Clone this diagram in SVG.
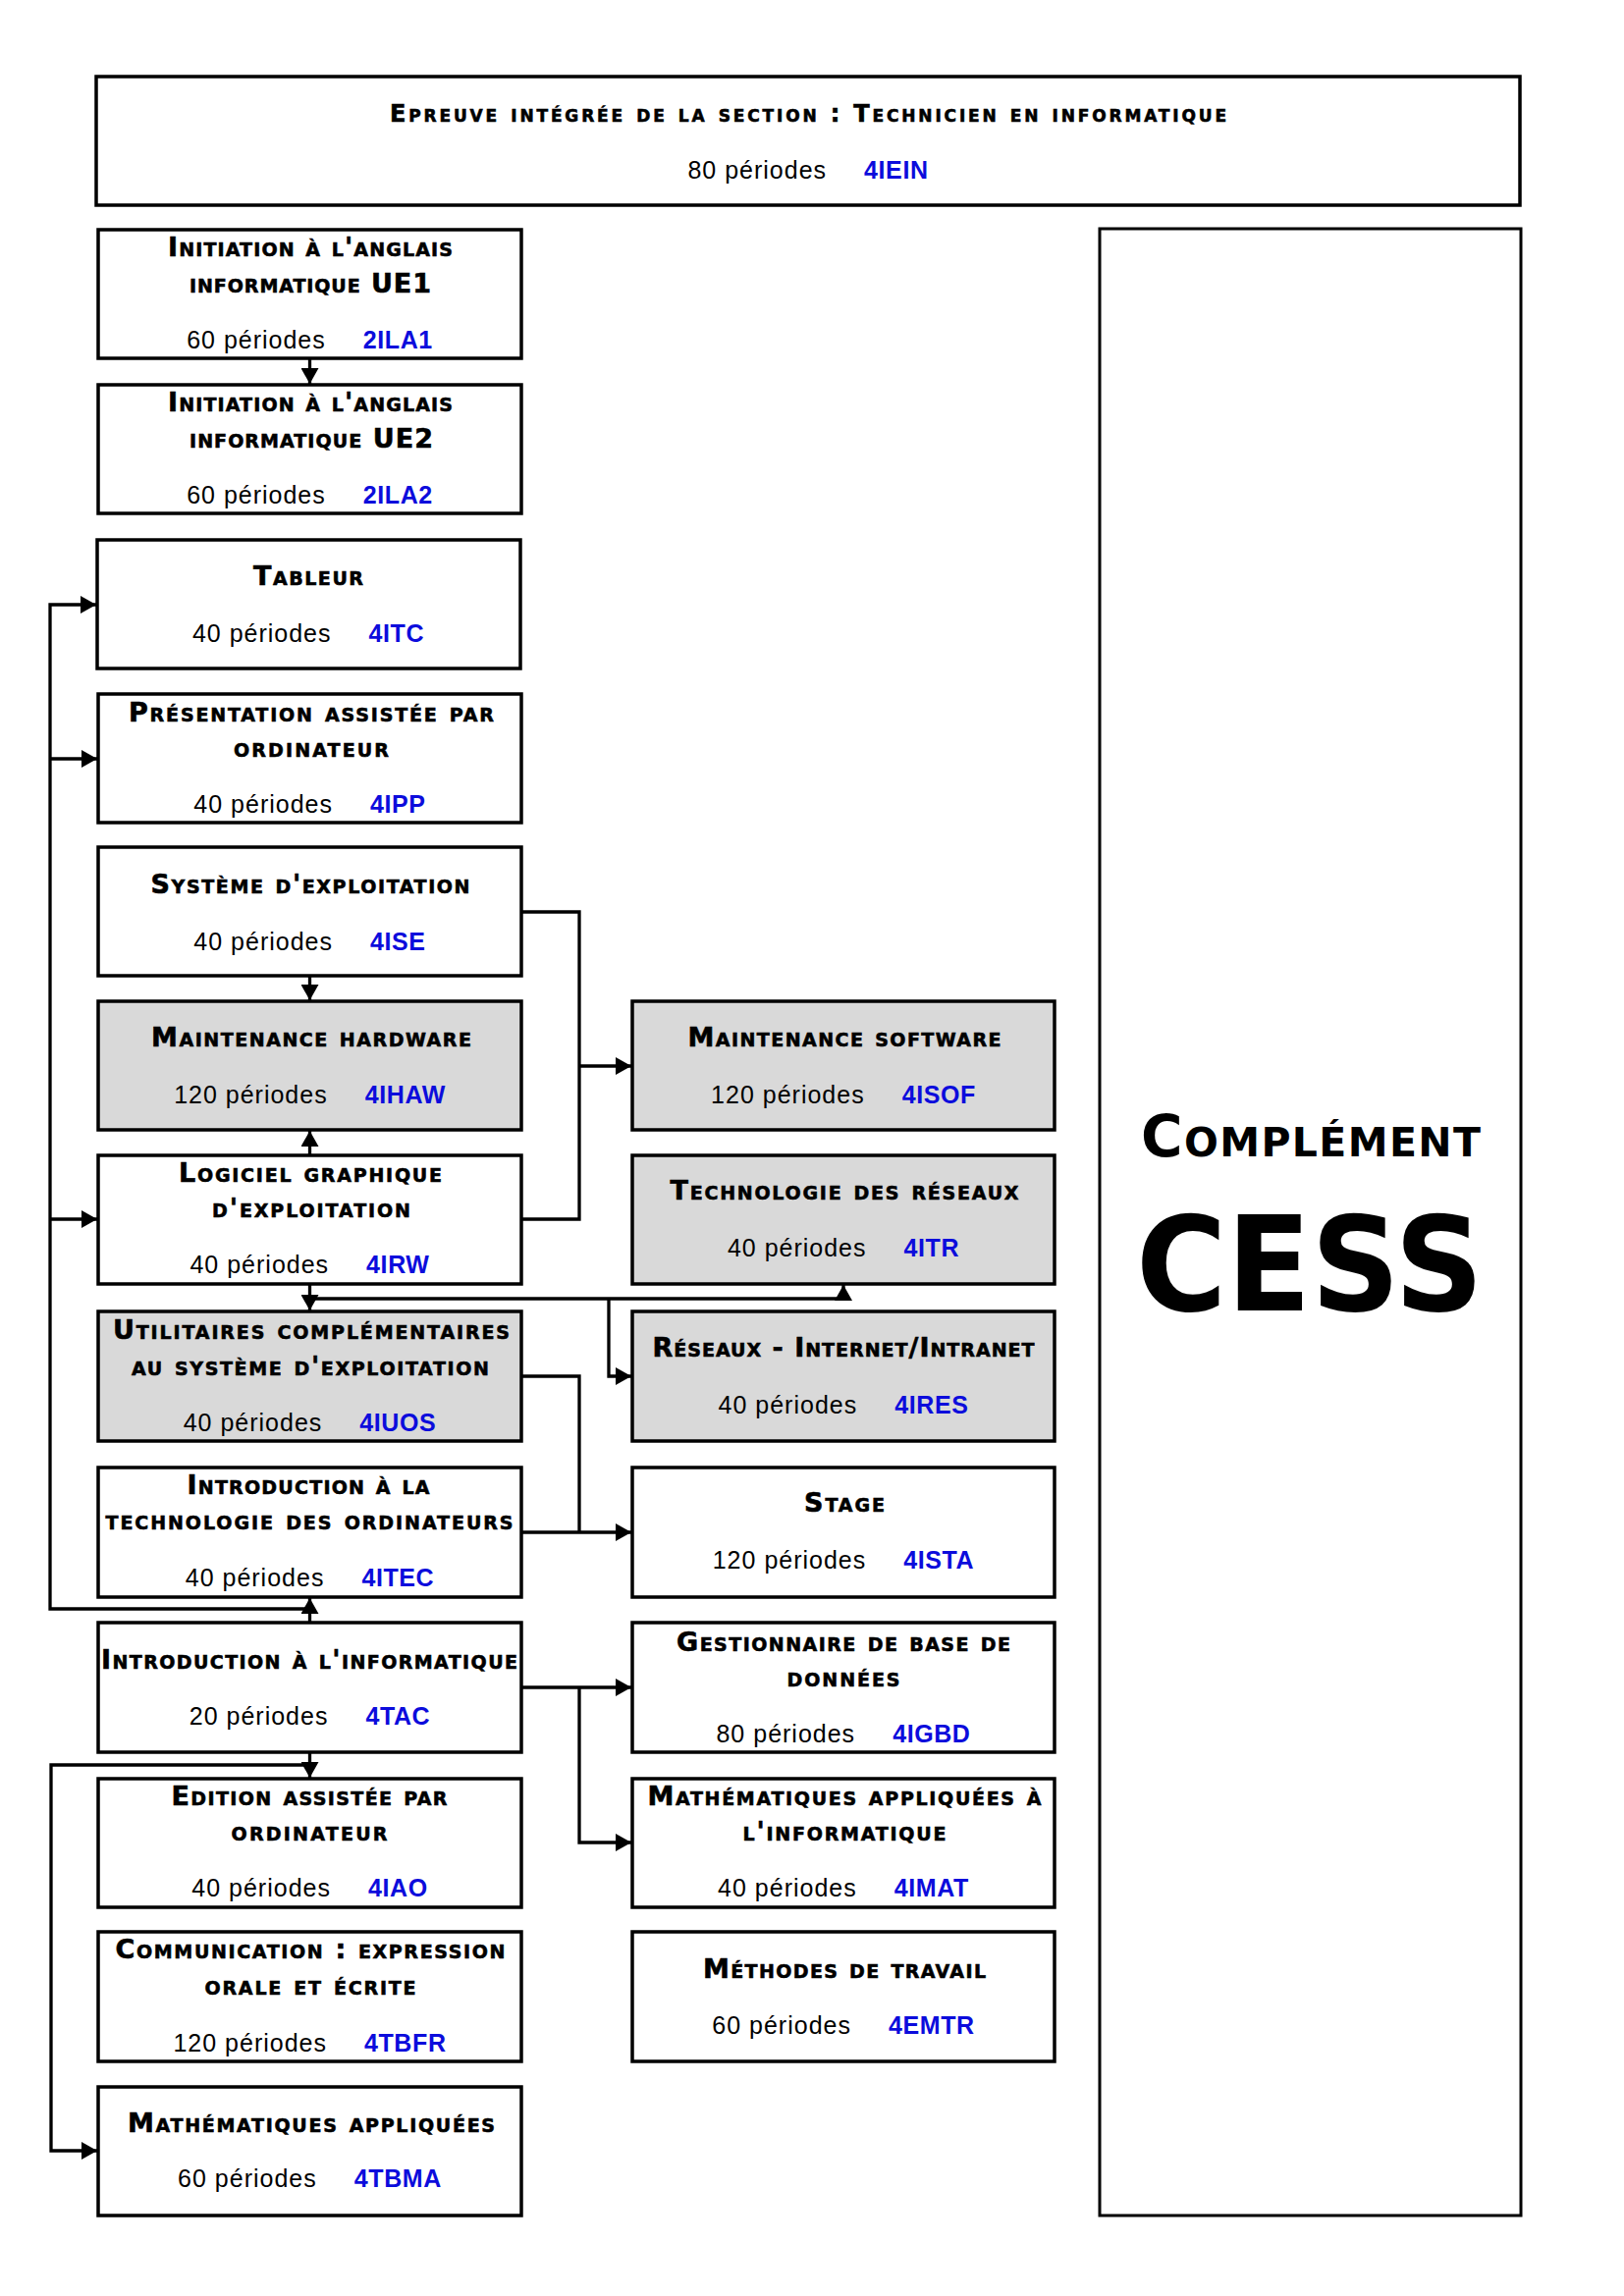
<svg xmlns="http://www.w3.org/2000/svg" width="1654" height="2339" viewBox="0 0 1654 2339">
  <style>
    .box { fill: #ffffff; stroke: #000000; stroke-width: 3.5; }
    .grey { fill: #d9d9d9; }
    .frame { fill: #ffffff; stroke: #000000; stroke-width: 3; }
    .t { font-family: "DejaVu Sans", "Liberation Sans", sans-serif; font-weight: bold; font-size: 27px; font-variant: small-caps; text-anchor: middle; fill: #000000; stroke: #000000; stroke-width: 0.6px; }
    .tt { font-size: 24px; }
    .p { font-family: "Liberation Sans", Arial, sans-serif; font-size: 25px; letter-spacing: 1px; text-anchor: middle; fill: #000000; }
    .c { font-weight: bold; fill: #0c0cdc; letter-spacing: 0.6px; }
    .big { font-family: "DejaVu Sans", "Liberation Sans", sans-serif; font-weight: bold; text-anchor: middle; fill: #000000; }
    .wire { fill: none; stroke: #000000; stroke-width: 3.3; }
    .arr { marker-end: url(#ah); }
  </style>
  <defs>
    <marker id="ah" markerUnits="userSpaceOnUse" viewBox="0 0 16 18" markerWidth="16" markerHeight="18" refX="16" refY="9" orient="auto">
      <path d="M0,0 L16,9 L0,18 z" fill="#000000"/>
    </marker>
  </defs>
  <rect width="1654" height="2339" fill="#ffffff"/>

  <!-- top: integrated exam -->
  <g id="n-4IEIN">
    <rect class="box" x="98" y="78" width="1450" height="131"/>
    <text class="t tt" x="823" y="124" textLength="852" lengthAdjust="spacing">Epreuve intégrée de la section : Technicien en informatique</text>
    <text class="p" x="823" y="182">80 périodes<tspan class="c" dx="38">4IEIN</tspan></text>
  </g>

  <!-- left column -->
  <g id="n-2ILA1">
    <rect class="box" x="100" y="234" width="431" height="131"/>
    <text class="t" x="316" y="261" textLength="290" lengthAdjust="spacing">Initiation à l'anglais</text>
    <text class="t" x="316" y="298" textLength="246" lengthAdjust="spacing">informatique UE1</text>
    <text class="p" x="315.5" y="355">60 périodes<tspan class="c" dx="38">2ILA1</tspan></text>
  </g>
  <g id="n-2ILA2">
    <rect class="box" x="100" y="392" width="431" height="131"/>
    <text class="t" x="316" y="419" textLength="290" lengthAdjust="spacing">Initiation à l'anglais</text>
    <text class="t" x="317" y="456" textLength="248" lengthAdjust="spacing">informatique UE2</text>
    <text class="p" x="315.5" y="513">60 périodes<tspan class="c" dx="38">2ILA2</tspan></text>
  </g>
  <g id="n-4ITC">
    <rect class="box" x="99" y="550" width="431" height="131"/>
    <text class="t" x="314" y="596" textLength="112" lengthAdjust="spacing">Tableur</text>
    <text class="p" x="314" y="654">40 périodes<tspan class="c" dx="38">4ITC</tspan></text>
  </g>
  <g id="n-4IPP">
    <rect class="box" x="100" y="707" width="431" height="131"/>
    <text class="t" x="317" y="735" textLength="372" lengthAdjust="spacing">Présentation assistée par</text>
    <text class="t" x="317" y="771" textLength="158" lengthAdjust="spacing">ordinateur</text>
    <text class="p" x="315.5" y="828">40 périodes<tspan class="c" dx="38">4IPP</tspan></text>
  </g>
  <g id="n-4ISE">
    <rect class="box" x="100" y="863" width="431" height="131"/>
    <text class="t" x="316" y="910" textLength="325" lengthAdjust="spacing">Système d'exploitation</text>
    <text class="p" x="315.5" y="968">40 périodes<tspan class="c" dx="38">4ISE</tspan></text>
  </g>
  <g id="n-4IHAW">
    <rect class="box grey" x="100" y="1020" width="431" height="131"/>
    <text class="t" x="317" y="1066" textLength="326" lengthAdjust="spacing">Maintenance hardware</text>
    <text class="p" x="315.5" y="1124">120 périodes<tspan class="c" dx="38">4IHAW</tspan></text>
  </g>
  <g id="n-4IRW">
    <rect class="box" x="100" y="1177" width="431" height="131"/>
    <text class="t" x="316" y="1204" textLength="268" lengthAdjust="spacing">Logiciel graphique</text>
    <text class="t" x="317" y="1240" textLength="202" lengthAdjust="spacing">d'exploitation</text>
    <text class="p" x="315.5" y="1297">40 périodes<tspan class="c" dx="38">4IRW</tspan></text>
  </g>
  <g id="n-4IUOS">
    <rect class="box grey" x="100" y="1336" width="431" height="132"/>
    <text class="t" x="317" y="1364" textLength="404" lengthAdjust="spacing">Utilitaires complémentaires</text>
    <text class="t" x="316" y="1401" textLength="364" lengthAdjust="spacing">au système d'exploitation</text>
    <text class="p" x="315.5" y="1458">40 périodes<tspan class="c" dx="38">4IUOS</tspan></text>
  </g>
  <g id="n-4ITEC">
    <rect class="box" x="100" y="1495" width="431" height="132"/>
    <text class="t" x="314" y="1522" textLength="247" lengthAdjust="spacing">Introduction à la</text>
    <text class="t" x="315" y="1558" textLength="415" lengthAdjust="spacing">technologie des ordinateurs</text>
    <text class="p" x="315.5" y="1616">40 périodes<tspan class="c" dx="38">4ITEC</tspan></text>
  </g>
  <g id="n-4TAC">
    <rect class="box" x="100" y="1653" width="431" height="132"/>
    <text class="t" x="315" y="1700" textLength="424" lengthAdjust="spacing">Introduction à l'informatique</text>
    <text class="p" x="315.5" y="1757">20 périodes<tspan class="c" dx="38">4TAC</tspan></text>
  </g>
  <g id="n-4IAO">
    <rect class="box" x="100" y="1812" width="431" height="131"/>
    <text class="t" x="315" y="1839" textLength="281" lengthAdjust="spacing">Edition assistée par</text>
    <text class="t" x="315" y="1875" textLength="159" lengthAdjust="spacing">ordinateur</text>
    <text class="p" x="315.5" y="1932">40 périodes<tspan class="c" dx="38">4IAO</tspan></text>
  </g>
  <g id="n-4TBFR">
    <rect class="box" x="100" y="1968" width="431" height="132"/>
    <text class="t" x="316" y="1995" textLength="397" lengthAdjust="spacing">Communication : expression</text>
    <text class="t" x="316" y="2032" textLength="215" lengthAdjust="spacing">orale et écrite</text>
    <text class="p" x="315.5" y="2090">120 périodes<tspan class="c" dx="38">4TBFR</tspan></text>
  </g>
  <g id="n-4TBMA">
    <rect class="box" x="100" y="2126" width="431" height="131"/>
    <text class="t" x="317" y="2172" textLength="374" lengthAdjust="spacing">Mathématiques appliquées</text>
    <text class="p" x="315.5" y="2228">60 périodes<tspan class="c" dx="38">4TBMA</tspan></text>
  </g>

  <!-- right column -->
  <g id="n-4ISOF">
    <rect class="box grey" x="644" y="1020" width="430" height="131"/>
    <text class="t" x="860" y="1066" textLength="319" lengthAdjust="spacing">Maintenance software</text>
    <text class="p" x="859" y="1124">120 périodes<tspan class="c" dx="38">4ISOF</tspan></text>
  </g>
  <g id="n-4ITR">
    <rect class="box grey" x="644" y="1177" width="430" height="131"/>
    <text class="t" x="860" y="1222" textLength="355" lengthAdjust="spacing">Technologie des réseaux</text>
    <text class="p" x="859" y="1280">40 périodes<tspan class="c" dx="38">4ITR</tspan></text>
  </g>
  <g id="n-4IRES">
    <rect class="box grey" x="644" y="1336" width="430" height="132"/>
    <text class="t" x="859" y="1382" textLength="389" lengthAdjust="spacing">Réseaux - Internet/Intranet</text>
    <text class="p" x="859" y="1440">40 périodes<tspan class="c" dx="38">4IRES</tspan></text>
  </g>
  <g id="n-4ISTA">
    <rect class="box" x="644" y="1495" width="430" height="132"/>
    <text class="t" x="860" y="1540" textLength="82" lengthAdjust="spacing">Stage</text>
    <text class="p" x="859" y="1598">120 périodes<tspan class="c" dx="38">4ISTA</tspan></text>
  </g>
  <g id="n-4IGBD">
    <rect class="box" x="644" y="1653" width="430" height="132"/>
    <text class="t" x="859" y="1682" textLength="340" lengthAdjust="spacing">Gestionnaire de base de</text>
    <text class="t" x="859" y="1718" textLength="115" lengthAdjust="spacing">données</text>
    <text class="p" x="859" y="1775">80 périodes<tspan class="c" dx="38">4IGBD</tspan></text>
  </g>
  <g id="n-4IMAT">
    <rect class="box" x="644" y="1812" width="430" height="131"/>
    <text class="t" x="860" y="1839" textLength="401" lengthAdjust="spacing">Mathématiques appliquées à</text>
    <text class="t" x="860" y="1875" textLength="207" lengthAdjust="spacing">l'informatique</text>
    <text class="p" x="859" y="1932">40 périodes<tspan class="c" dx="38">4IMAT</tspan></text>
  </g>
  <g id="n-4EMTR">
    <rect class="box" x="644" y="1968" width="430" height="132"/>
    <text class="t" x="860" y="2015" textLength="288" lengthAdjust="spacing">Méthodes de travail</text>
    <text class="p" x="859" y="2072">60 périodes<tspan class="c" dx="38">4EMTR</tspan></text>
  </g>

  <!-- right frame: CESS complement -->
  <g id="n-cess">
    <rect class="frame" x="1120" y="233" width="429" height="2024"/>
    <text class="big" x="1335" y="1178" font-size="58" textLength="346" lengthAdjust="spacing" style="font-variant: small-caps">Complément</text>
    <text class="big" x="1334" y="1335" font-size="133" textLength="354" lengthAdjust="spacingAndGlyphs">CESS</text>
  </g>

  <!-- connectors -->
  <g id="connectors">
    <path class="wire arr" d="M315.5,365 V391"/>
    <path class="wire arr" d="M315.5,994 V1019"/>
    <path class="wire arr" d="M315.5,1177 V1152"/>
    <path class="wire arr" d="M315.5,1308 V1335"/>
    <path class="wire" d="M531,929 H590 V1242 H531"/>
    <path class="wire arr" d="M590,1086 H643"/>
    <path class="wire arr" d="M315.5,1323 H859 V1309"/>
    <path class="wire arr" d="M620,1323 V1402 H643"/>
    <path class="wire" d="M531,1402 H590 V1561"/>
    <path class="wire arr" d="M531,1561 H643"/>
    <path class="wire arr" d="M315.5,1653 V1628"/>
    <path class="wire arr" d="M315.5,1639 H51 V616 H98"/>
    <path class="wire arr" d="M51,773 H99"/>
    <path class="wire arr" d="M51,1242 H99"/>
    <path class="wire arr" d="M531,1719 H643"/>
    <path class="wire arr" d="M590,1719 V1877 H643"/>
    <path class="wire arr" d="M315.5,1785 V1811"/>
    <path class="wire arr" d="M315.5,1798 H52 V2191 H99"/>
  </g>
</svg>
